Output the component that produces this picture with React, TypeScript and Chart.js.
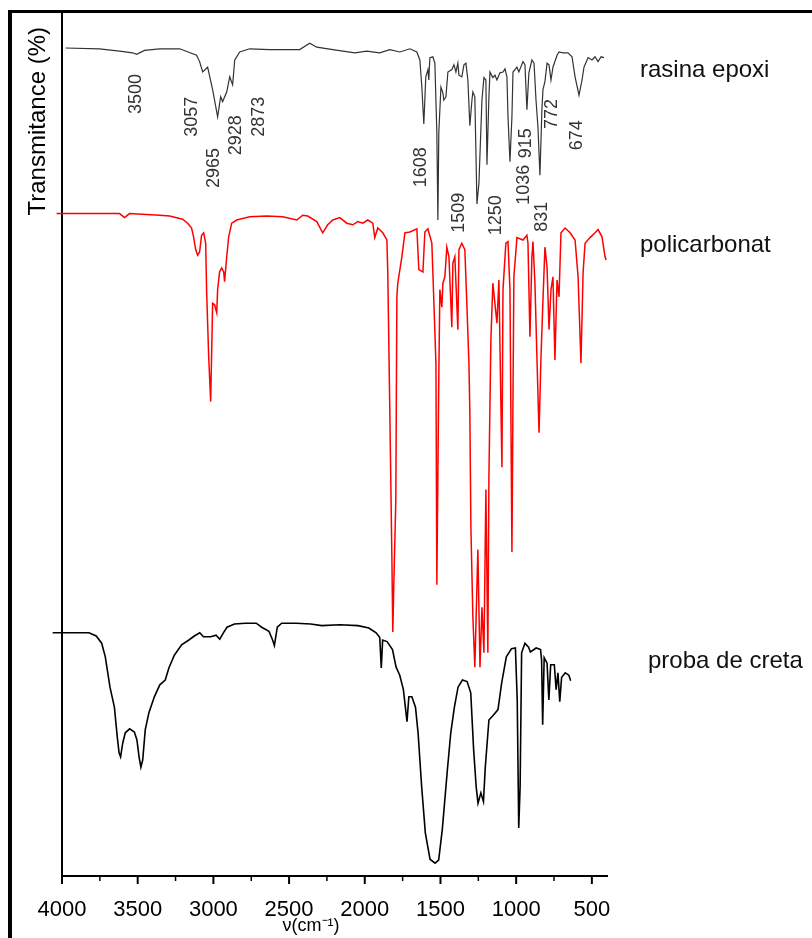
import React, { useEffect, useRef } from 'react';
import { Chart, registerables } from 'chart.js';

Chart.register(...registerables);

const FONT = '"Liberation Sans", Arial, Helvetica, sans-serif';

// ---- rasina epoxi (top trace) ----
const epoxiWavenumber = [
  3977, 3752, 3620, 3534, 3507, 3455, 3355, 3223, 3111, 3091, 3071, 3038, 3005, 2972, 2952, 2939,
  2912, 2892, 2873, 2859, 2826, 2760, 2628, 2430, 2364, 2317, 2211, 2066, 1987, 1901, 1835, 1768,
  1702, 1656, 1636, 1623, 1610, 1597, 1583, 1577, 1570, 1550, 1537, 1524, 1517, 1511, 1497, 1484,
  1478, 1464, 1451, 1425, 1411, 1398, 1385, 1378, 1359, 1345, 1332, 1319, 1306, 1292, 1286, 1273,
  1259, 1246, 1226, 1213, 1200, 1193, 1180, 1173, 1154, 1140, 1127, 1107, 1087, 1074, 1061, 1054,
  1041, 1028, 1021, 995, 982, 955, 942, 929, 916, 896, 882, 869, 856, 843, 830, 823,
  810, 796, 783, 770, 757, 730, 717, 691, 658, 631, 611, 585, 565, 552, 525, 499,
  479, 459, 439, 420,
];
const epoxiTransmittance = [
  103.5, 103.4, 103.1, 102.9, 102.7, 103.2, 103.4, 103.4, 102.6, 101.8, 100.5, 101.1, 98.3, 94.9, 97.4, 96.8,
  98.0, 99.9, 98.9, 102.0, 103.0, 103.4, 103.3, 103.3, 104.1, 103.6, 103.3, 102.9, 103.1, 102.9, 103.3, 103.0,
  103.4, 103.0, 102.0, 98.6, 94.0, 99.9, 100.8, 99.5, 102.3, 102.4, 101.6, 92.9, 82.0, 92.9, 98.6, 97.9,
  97.0, 97.4, 100.5, 100.8, 101.4, 100.5, 101.6, 100.1, 99.9, 101.4, 101.6, 99.5, 93.8, 97.0, 98.0, 97.4,
  84.0, 86.6, 97.0, 99.8, 99.5, 88.9, 97.4, 100.5, 99.8, 100.1, 99.5, 100.4, 100.5, 100.9, 99.9, 94.9,
  89.3, 94.9, 100.5, 101.1, 100.5, 101.8, 101.4, 95.8, 100.4, 102.0, 101.6, 97.0, 93.6, 87.6, 95.8, 98.3,
  99.3, 101.6, 101.4, 99.5, 101.1, 102.6, 103.0, 102.9, 102.9, 102.4, 99.9, 97.6, 99.5, 101.1, 102.3, 102.0,
  102.4, 101.8, 102.4, 102.3,
];

// ---- policarbonat (middle trace) ----
const polycarbonateWavenumber = [
  4036, 3620, 3587, 3554, 3355, 3289, 3203, 3170, 3144, 3131, 3117, 3104, 3091, 3078, 3064, 3051,
  3045, 3031, 3018, 3012, 3005, 2992, 2978, 2972, 2959, 2945, 2932, 2926, 2912, 2899, 2879, 2846,
  2760, 2648, 2542, 2449, 2410, 2377, 2317, 2278, 2245, 2211, 2165, 2119, 2079, 2046, 2013, 1980,
  1947, 1934, 1914, 1881, 1854, 1848, 1835, 1821, 1815, 1808, 1795, 1788, 1782, 1755, 1735, 1702,
  1656, 1643, 1616, 1603, 1583, 1557, 1544, 1530, 1524, 1511, 1504, 1491, 1484, 1471, 1458, 1444,
  1425, 1418, 1405, 1385, 1378, 1359, 1339, 1325, 1312, 1306, 1299, 1286, 1273, 1253, 1239, 1226,
  1213, 1200, 1187, 1180, 1167, 1154, 1127, 1114, 1094, 1087, 1068, 1054, 1041, 1028, 1021, 1015,
  995, 955, 929, 922, 909, 896, 889, 876, 863, 849, 836, 823, 810, 796, 783, 770,
  757, 744, 730, 717, 704, 677, 644, 611, 591, 572, 558, 545, 512, 479, 459, 433,
  413, 406,
];
const polycarbonateTransmittance = [
  82.8, 82.8, 82.3, 82.8, 82.6, 82.5, 82.1, 81.6, 81.0, 79.9, 78.3, 77.6, 78.0, 80.1, 80.4, 79.1,
  73.3, 64.9, 59.3, 64.9, 71.6, 71.4, 70.4, 73.3, 75.5, 76.0, 75.5, 74.3, 77.4, 79.9, 81.6, 82.0,
  82.4, 82.5, 82.4, 82.0, 82.6, 82.5, 81.8, 80.4, 81.4, 82.0, 82.3, 81.6, 81.4, 81.8, 81.6, 82.0,
  81.6, 79.8, 81.0, 80.4, 79.5, 75.4, 58.6, 39.9, 30.5, 36.6, 47.0, 72.4, 74.1, 77.4, 80.4, 80.5,
  80.9, 75.8, 75.5, 80.5, 80.9, 79.1, 72.0, 64.1, 36.4, 62.4, 73.3, 71.1, 74.1, 74.9, 78.6, 77.4,
  68.6, 76.6, 77.4, 68.3, 78.3, 79.1, 78.3, 71.1, 64.1, 57.9, 43.6, 32.4, 26.1, 40.8, 26.1, 33.6,
  27.9, 48.3, 27.9, 49.9, 67.0, 74.1, 69.1, 74.5, 51.1, 73.3, 79.1, 79.3, 73.3, 40.5, 59.9, 74.9,
  79.8, 79.5, 80.1, 79.1, 67.4, 77.4, 79.3, 74.1, 64.9, 55.4, 64.9, 72.0, 78.6, 76.1, 68.3, 73.3,
  74.9, 64.5, 74.5, 72.4, 80.4, 81.0, 80.4, 79.5, 74.9, 64.1, 75.4, 79.1, 79.8, 80.4, 80.8, 79.9,
  77.4, 77.0,
];

// ---- proba de creta (bottom trace) ----
const chalkWavenumber = [
  4062, 3822, 3774, 3738, 3714, 3683, 3654, 3635, 3623, 3613, 3599, 3582, 3553, 3522, 3505, 3491,
  3479, 3467, 3450, 3426, 3390, 3354, 3318, 3294, 3258, 3210, 3162, 3126, 3090, 3066, 3018, 2982,
  2958, 2934, 2910, 2861, 2789, 2717, 2681, 2633, 2609, 2597, 2578, 2549, 2453, 2357, 2285, 2165,
  2045, 1973, 1925, 1901, 1891, 1882, 1853, 1817, 1793, 1769, 1745, 1721, 1709, 1689, 1665, 1648,
  1624, 1600, 1569, 1536, 1512, 1488, 1456, 1432, 1408, 1384, 1355, 1324, 1300, 1281, 1264, 1252,
  1233, 1216, 1204, 1180, 1151, 1120, 1096, 1065, 1031, 1005, 993, 983, 974, 964, 942, 918,
  906, 868, 839, 832, 825, 815, 796, 784, 772, 748, 736, 724, 712, 700, 676, 652,
  640,
];
const chalkTransmittance = [
  30.4, 30.4, 30.0, 29.1, 27.4, 23.6, 21.1, 17.4, 15.4, 14.9, 16.6, 17.9, 18.4, 18.0, 17.0, 14.9,
  13.6, 14.5, 18.3, 20.4, 22.4, 23.9, 24.5, 26.0, 27.6, 28.9, 29.5, 30.0, 30.4, 29.9, 29.9, 30.1,
  29.6, 30.4, 31.1, 31.5, 31.6, 31.6, 31.1, 30.6, 29.5, 28.8, 31.1, 31.6, 31.6, 31.5, 31.3, 31.4,
  31.3, 31.0, 30.4, 29.8, 26.0, 29.5, 29.3, 28.3, 26.1, 25.1, 23.3, 19.3, 22.4, 22.4, 21.1, 17.9,
  11.1, 5.4, 2.1, 1.6, 2.0, 5.8, 12.9, 17.9, 21.1, 23.6, 24.5, 24.3, 22.9, 15.8, 11.1, 9.1,
  10.4, 9.3, 13.6, 19.5, 20.1, 20.8, 24.1, 27.4, 28.4, 28.5, 22.0, 6.0, 11.1, 27.9, 29.1, 28.6,
  28.0, 28.5, 28.3, 27.0, 18.9, 27.3, 26.6, 22.0, 26.4, 26.4, 23.3, 25.4, 21.8, 24.8, 25.4, 25.1,
  24.4,
];

// ---- texts ----
const seriesNames = ['rasina epoxi', 'policarbonat', 'proba de creta'];
const seriesColors = ['#333333', '#ff0000', '#000000'];
const seriesNameLevel = [99.9, 78.0, 26.0];

const peakLabelText = ['3500', '3057', '2965', '2928', '2873', '1608', '1509', '1250', '1036', '915', '831', '772', '674'];
const peakLabelWavenumber = [3514, 3144, 2998, 2853, 2701, 1630, 1379, 1134, 949, 936, 830, 764, 598];
const peakLabelLevel = [97.75, 94.9, 88.5, 92.6, 94.9, 88.6, 82.9, 82.6, 86.4, 91.6, 82.4, 95.25, 92.6];

const xAxisTitle = 'ν(cm⁻¹)';
const yAxisTitle = 'Transmitance (%)';

const toPoints = (xs: number[], ys: number[]) => xs.map((x, i) => ({ x, y: ys[i] }));

const decorPlugin = {
  id: 'decor',
  afterDraw(chart: any) {
    const ctx = chart.ctx as CanvasRenderingContext2D;
    const { left, right, top, bottom } = chart.chartArea;
    const xs = chart.scales.x;
    const ys = chart.scales.y;
    ctx.save();

    // outer frame (left and top)
    ctx.fillStyle = '#000';
    ctx.fillRect(8, 10, chart.width - 8, 3);
    ctx.fillRect(8, 10, 4, chart.height - 10);

    // x tick marks (major / minor)
    ctx.strokeStyle = '#000';
    xs.ticks.forEach((t: any) => {
      const px = xs.getPixelForValue(t.value);
      const major = t.value % 500 === 0;
      ctx.lineWidth = major ? 2 : 1.5;
      ctx.beginPath();
      ctx.moveTo(px, bottom);
      ctx.lineTo(px, bottom + (major ? 8 : 5));
      ctx.stroke();
    });

    // peak labels (rotated)
    ctx.fillStyle = '#333';
    ctx.font = `18px ${FONT}`;
    ctx.textAlign = 'center';
    ctx.textBaseline = 'middle';
    peakLabelText.forEach((txt, i) => {
      const px = xs.getPixelForValue(peakLabelWavenumber[i]);
      const py = ys.getPixelForValue(peakLabelLevel[i]);
      ctx.save();
      ctx.translate(px, py);
      ctx.rotate(-Math.PI / 2);
      ctx.fillText(txt, 0, 0);
      ctx.restore();
    });

    // series names
    ctx.fillStyle = '#111';
    ctx.font = `24px ${FONT}`;
    ctx.textAlign = 'left';
    ctx.textBaseline = 'alphabetic';
    const nameOffset = [33, 33, 41];
    seriesNames.forEach((n, i) => {
      ctx.fillText(n, right + nameOffset[i], ys.getPixelForValue(seriesNameLevel[i]));
    });

    // y axis title
    ctx.save();
    ctx.fillStyle = '#000';
    ctx.font = `24px ${FONT}`;
    ctx.translate(left - 17, top + 15);
    ctx.rotate(-Math.PI / 2);
    ctx.textAlign = 'right';
    ctx.textBaseline = 'alphabetic';
    ctx.fillText(yAxisTitle, 0, 0);
    ctx.restore();

    // x axis title
    ctx.fillStyle = '#000';
    ctx.font = `18px ${FONT}`;
    ctx.textAlign = 'center';
    ctx.textBaseline = 'alphabetic';
    ctx.fillText(xAxisTitle, left + 249, bottom + 55);

    ctx.restore();
  },
};

export default function App() {
  const canvasRef = useRef<HTMLCanvasElement | null>(null);

  useEffect(() => {
    if (!canvasRef.current) return;
    const chart = new Chart(canvasRef.current, {
      type: 'line',
      data: {
        datasets: [
          {
            label: seriesNames[0],
            data: toPoints(epoxiWavenumber, epoxiTransmittance),
            borderColor: seriesColors[0],
            borderWidth: 1.2,
            pointRadius: 0,
            tension: 0,
            clip: false as any,
          },
          {
            label: seriesNames[1],
            data: toPoints(polycarbonateWavenumber, polycarbonateTransmittance),
            borderColor: seriesColors[1],
            borderWidth: 1.5,
            pointRadius: 0,
            tension: 0,
            clip: false as any,
          },
          {
            label: seriesNames[2],
            data: toPoints(chalkWavenumber, chalkTransmittance),
            borderColor: seriesColors[2],
            borderWidth: 1.6,
            pointRadius: 0,
            tension: 0,
            clip: false as any,
          },
        ],
      },
      options: {
        responsive: false,
        animation: false,
        devicePixelRatio: 1,
        layout: { padding: { left: 0, right: 205, top: 12, bottom: 0 } },
        plugins: {
          legend: { display: false },
          tooltip: { enabled: false },
        },
        scales: {
          x: {
            type: 'linear',
            reverse: true,
            min: 400,
            max: 4000,
            grid: { display: false },
            border: { display: true, color: '#000', width: 2 },
            ticks: {
              stepSize: 250,
              includeBounds: false,
              autoSkip: false,
              maxRotation: 0,
              padding: 13,
              color: '#000',
              font: { family: FONT, size: 22 },
              callback: (v: any) => (Number(v) % 500 === 0 ? String(v) : ''),
            },
            afterFit: (scale: any) => {
              scale.height = 62;
            },
          },
          y: {
            type: 'linear',
            min: 0,
            max: 108,
            grid: { display: false },
            border: { display: true, color: '#000', width: 2 },
            ticks: { display: false },
            afterFit: (scale: any) => {
              scale.width = 62;
            },
          },
        },
      },
      plugins: [decorPlugin],
    });
    return () => chart.destroy();
  }, []);

  return (
    <div style={{ position: 'absolute', left: 0, top: 0, width: 812, height: 938, background: '#fff' }}>
      <canvas ref={canvasRef} width={812} height={938} />
    </div>
  );
}
